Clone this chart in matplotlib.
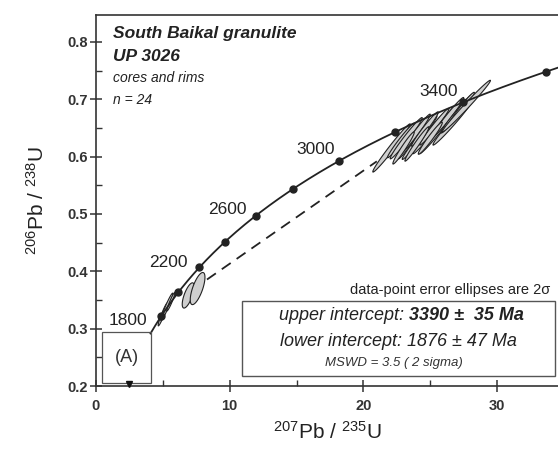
import numpy as np
import matplotlib
matplotlib.use("Agg")
import matplotlib.pyplot as plt
from matplotlib.patches import Polygon, Rectangle

plt.rcParams["font.family"] = ["Liberation Sans", "DejaVu Sans"]
plt.rcParams["mathtext.fontset"] = "custom"
plt.rcParams["mathtext.rm"] = "Liberation Sans"
plt.rcParams["mathtext.it"] = "Liberation Sans:italic"
plt.rcParams["mathtext.bf"] = "Liberation Sans:bold"

# decay constants (per Ma)
lam238 = 1.55125e-4
lam235 = 9.8485e-4

# concordia span and age marks (Ma)
conc_start, conc_end = 1650, 3700
tick_ages = [1800, 2000, 2200, 2400, 2600, 2800, 3000, 3200, 3400, 3600]
label_ages = ["1800", "2200", "2600", "3000", "3400"]
label_x = [2.4, 5.4, 9.8, 16.4, 25.65]
label_y = [0.315, 0.416, 0.507, 0.612, 0.713]

# intercepts (Ma)
upper_age = 3390
lower_age = 1876
dash_x = [8.3, 21.0]

# data points: 207Pb/235U, 206Pb/238U, 2s errors, error correlation
pt_x = [22.1, 22.8, 23.2, 23.5, 23.9, 24.2, 24.6, 24.9, 25.3, 25.6, 26.0, 26.3,
        26.7, 27.0, 27.3, 27.7, 23.0, 24.0, 25.0, 5.0, 5.3, 5.6, 6.9, 7.6]
pt_y = [0.615, 0.628, 0.632, 0.626, 0.640, 0.633, 0.648, 0.640, 0.652, 0.645, 0.660, 0.668,
        0.660, 0.675, 0.682, 0.688, 0.615, 0.622, 0.632, 0.325, 0.338, 0.347, 0.358, 0.370]
pt_sx = [1.4, 1.0, 1.2, 0.9, 1.1, 1.3, 1.0, 1.2, 1.1, 1.4, 1.0, 1.2,
         1.5, 1.2, 1.0, 1.8, 0.8, 0.9, 0.9, 0.35, 0.45, 0.3, 0.45, 0.55]
pt_sy = [0.042, 0.030, 0.036, 0.030, 0.034, 0.038, 0.030, 0.035, 0.032, 0.040, 0.030, 0.035,
         0.040, 0.034, 0.030, 0.045, 0.028, 0.030, 0.028, 0.020, 0.024, 0.016, 0.022, 0.028]
pt_rho = [0.985, 0.98, 0.98, 0.975, 0.98, 0.985, 0.975, 0.98, 0.98, 0.985, 0.975, 0.98,
          0.985, 0.98, 0.975, 0.99, 0.97, 0.975, 0.97, 0.95, 0.96, 0.95, 0.7, 0.7]


def ratios(t):
    t = np.asarray(t, dtype=float)
    return np.exp(lam235 * t) - 1, np.exp(lam238 * t) - 1


def ellipse_pts(x, y, sx, sy, rho, n=80):
    cov = np.array([[sx * sx, rho * sx * sy], [rho * sx * sy, sy * sy]])
    L = np.linalg.cholesky(cov)
    a = np.linspace(0, 2 * np.pi, n)
    circ = np.vstack([np.cos(a), np.sin(a)])
    e = L @ circ
    return np.column_stack([x + e[0], y + e[1]])


fig = plt.figure(figsize=(5.58, 4.5), dpi=100)
ax = fig.add_axes([0.172, 0.142, 0.828, 0.825])
ax.set_xlim(0, 34.55)
ax.set_ylim(0.2, 0.847)

# ellipses
for x, y, sx, sy, r in zip(pt_x, pt_y, pt_sx, pt_sy, pt_rho):
    ax.add_patch(Polygon(ellipse_pts(x, y, sx, sy, r), closed=True,
                         facecolor="#cfcfcf", edgecolor="#222222", lw=0.8, zorder=3))

# concordia
tc = np.linspace(conc_start, conc_end, 300)
cx, cy = ratios(tc)
ax.plot(cx, cy, color="#222222", lw=1.3, zorder=4)
tx, ty = ratios(tick_ages)
ax.plot(tx, ty, "o", color="#222222", ms=5, zorder=5)

for s, x, y in zip(label_ages, label_x, label_y):
    ax.text(x, y, s, fontsize=12.5, color="#222222", ha="center", va="center", zorder=6)

# discordia (dashed part)
ux, uy = ratios(upper_age)
lx, ly = ratios(lower_age)
slope = (uy - ly) / (ux - lx)
dx = np.array(dash_x)
ax.plot(dx, ly + slope * (dx - lx), color="#222222", lw=1.3, ls=(0, (6, 4)), zorder=2)

# inset box (A)
ax.add_patch(Rectangle((0.45, 0.205), 3.66, 0.089, fill=False, edgecolor="#555555",
                       lw=0.9, zorder=6))
ax.text(2.28, 0.25, "(A)", fontsize=13, color="#333333", ha="center", va="center")
ax.plot([2.47], [0.203], marker="v", color="#111111", ms=5, clip_on=False, zorder=7)

# axes styling
for sp in ["left", "bottom", "top"]:
    ax.spines[sp].set_color("#333333")
    ax.spines[sp].set_linewidth(1.2)
ax.spines["right"].set_visible(False)
ax.set_xticks([0, 10, 20, 30])
ax.set_xticks([5, 15, 25], minor=True)
ax.set_yticks([0.2, 0.3, 0.4, 0.5, 0.6, 0.7, 0.8])
ax.set_yticks(np.arange(0.25, 0.85, 0.1), minor=True)
ax.set_yticklabels(["0.2", "0.3", "0.4", "0.5", "0.6", "0.7", "0.8"])
ax.tick_params(which="major", direction="inout", length=8, width=1.1, color="#333333",
               labelsize=10.5, labelcolor="#333333", pad=2)
ax.tick_params(axis="x", which="major", pad=5)
ax.tick_params(which="minor", direction="in", length=4, width=1.0, color="#333333")
for lab in ax.get_xticklabels() + ax.get_yticklabels():
    lab.set_fontweight("bold")

ax.set_xlabel(r"$\mathregular{^{207}Pb\ /\ ^{235}U}$", fontsize=15, color="#222222", labelpad=6)
ax.set_ylabel(r"$\mathregular{^{206}Pb\ /\ ^{238}U}$", fontsize=15, color="#222222", labelpad=14)

# title block
ax.text(0.037, 0.951, "South Baikal granulite", transform=ax.transAxes, fontsize=12.5,
        fontweight="bold", style="italic", color="#222222", va="center")
ax.text(0.037, 0.887, "UP 3026", transform=ax.transAxes, fontsize=12.5,
        fontweight="bold", style="italic", color="#222222", va="center")
ax.text(0.037, 0.830, "cores and rims", transform=ax.transAxes, fontsize=10,
        style="italic", color="#222222", va="center")
ax.text(0.037, 0.771, "n = 24", transform=ax.transAxes, fontsize=10,
        style="italic", color="#222222", va="center")

# results box
ax.text(0.983, 0.258, "data-point error ellipses are 2\u03c3", transform=ax.transAxes,
        fontsize=10.5, color="#222222", ha="right", va="center")
ax.add_patch(Rectangle((0.316, 0.027), 0.678, 0.203, transform=ax.transAxes, fill=False,
                       edgecolor="#555555", lw=1.0))
ax.text(0.677, 0.189, "upper intercept: ", transform=ax.transAxes, fontsize=13,
        style="italic", color="#222222", ha="right", va="center")
ax.text(0.677, 0.189, "3390 \u00b1  35 Ma", transform=ax.transAxes, fontsize=13,
        style="italic", fontweight="bold", color="#222222", ha="left", va="center")
ax.text(0.655, 0.121, "lower intercept: 1876 \u00b1 47 Ma", transform=ax.transAxes,
        fontsize=13, style="italic", color="#222222", ha="center", va="center")
ax.text(0.645, 0.062, "MSWD = 3.5 ( 2 sigma)", transform=ax.transAxes, fontsize=9.5,
        style="italic", color="#333333", ha="center", va="center")

fig.savefig("out.png", dpi=100)
